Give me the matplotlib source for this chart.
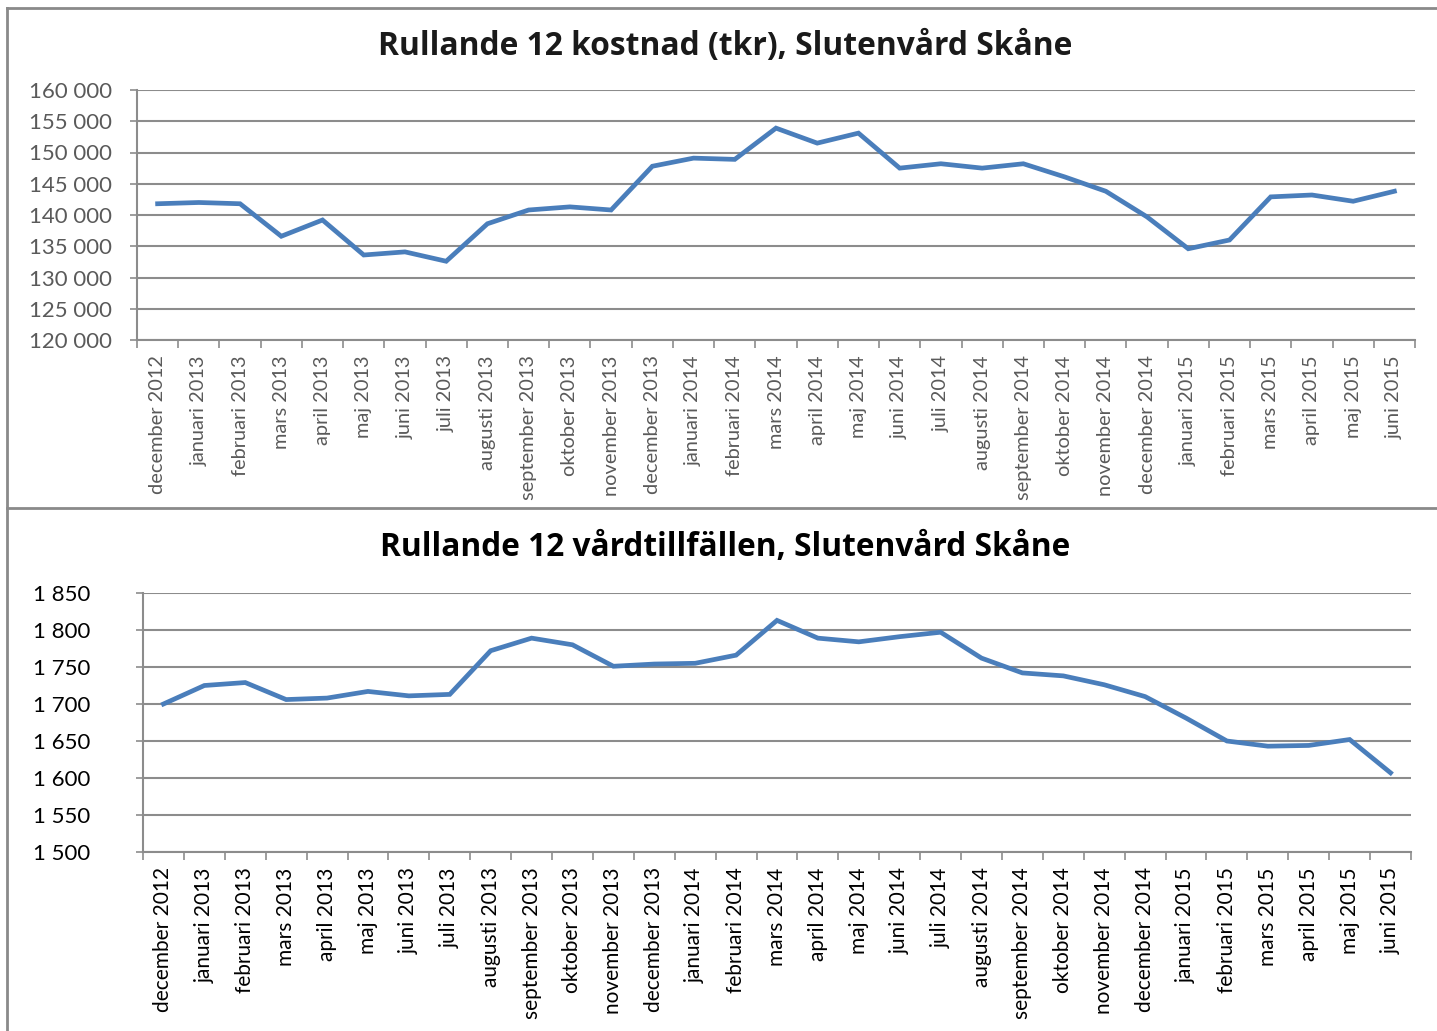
import matplotlib
matplotlib.use('Agg')

import matplotlib.pyplot as plt
import numpy as np
from matplotlib.lines import Line2D
from matplotlib.ticker import FuncFormatter

plt.rcParams['font.family'] = ['Lato', 'DejaVu Sans']

# categories, shared by both charts
months = ["december 2012", "januari 2013", "februari 2013", "mars 2013", "april 2013",
          "maj 2013", "juni 2013", "juli 2013", "augusti 2013", "september 2013",
          "oktober 2013", "november 2013", "december 2013", "januari 2014", "februari 2014",
          "mars 2014", "april 2014", "maj 2014", "juni 2014", "juli 2014", "augusti 2014",
          "september 2014", "oktober 2014", "november 2014", "december 2014", "januari 2015",
          "februari 2015", "mars 2015", "april 2015", "maj 2015", "juni 2015"]

# rolling 12 cost (tkr)
cost = [141800, 142000, 141800, 136600, 139200, 133600, 134100, 132600, 138600, 140800,
        141300, 140800, 147800, 149100, 148900, 153900, 151500, 153100, 147500, 148200,
        147500, 148200, 146100, 143800, 139700, 134600, 136000, 142900, 143200, 142200,
        143800]

# rolling 12 care episodes
episodes = [1700, 1725, 1729, 1706, 1708, 1717, 1711, 1713, 1772, 1789,
            1780, 1751, 1754, 1755, 1766, 1813, 1789, 1784, 1791, 1797,
            1762, 1742, 1738, 1726, 1710, 1681, 1650, 1643, 1644, 1652,
            1607]

title_top = "Rullande 12 kostnad (tkr), Slutenvård Skåne"
title_bottom = "Rullande 12 vårdtillfällen, Slutenvård Skåne"

W, H = 1437, 1031
line_color = "#4A7EBB"
grid_color = "#8C8C8C"


def px_axes(fig, left, top, right, bottom):
	return fig.add_axes([left / W, 1 - bottom / H, (right - left) / W, (bottom - top) / H])


def space_thousands(v, pos):
	return "{:,}".format(int(round(v))).replace(",", " ")


def style_axes(ax, values, ylim, ystep, text_color, ysize, xsize, ypad):
	x = np.arange(len(values))
	ax.plot(x, values, color=line_color, lw=3.4, solid_joinstyle='miter')
	ax.set_xlim(-0.5, len(values) - 0.5)
	ax.set_ylim(*ylim)
	ax.set_yticks(np.arange(ylim[0], ylim[1] + 1, ystep))
	ax.yaxis.set_major_formatter(FuncFormatter(space_thousands))
	ax.yaxis.grid(True, color=grid_color, lw=1.5)
	ax.set_axisbelow(True)
	ax.set_xticks(x)
	ax.set_xticklabels(months, rotation=90, fontsize=xsize, color=text_color)
	ax.set_xticks(np.arange(-0.5, len(values), 1), minor=True)
	ax.tick_params(axis='x', which='major', length=0, pad=11)
	ax.tick_params(axis='x', which='minor', length=6, width=1.2, color=grid_color, direction='out')
	ax.tick_params(axis='y', length=5, width=1.2, color=grid_color, direction='out',
	               labelsize=ysize, labelcolor=text_color, pad=ypad)
	for s in ['top', 'right']:
		ax.spines[s].set_visible(False)
	for s in ['left', 'bottom']:
		ax.spines[s].set_color(grid_color)
		ax.spines[s].set_linewidth(1.5)


fig = plt.figure(figsize=(W / 100.0, H / 100.0), dpi=100)

# top chart
ax1 = px_axes(fig, 137, 90, 1415, 340)
style_axes(ax1, cost, (120000, 160000), 5000, "#5A5A5A", 16, 14.4, 13)
fig.text(725 / W, 1 - 47 / H, title_top, ha='center', va='center',
         fontsize=22.9, fontweight='bold', color="#1A1A1A", family='Open Sans')

# bottom chart
ax2 = px_axes(fig, 143, 593, 1411, 852)
style_axes(ax2, episodes, (1500, 1850), 50, "#000000", 16, 15, 33)
fig.text(725 / W, 1 - 548 / H, title_bottom, ha='center', va='center',
         fontsize=22.8, fontweight='bold', color="#000000", family='Open Sans')

# chart frames
frame = "#8A8A8A"
fig.add_artist(Line2D([7 / W, 7 / W], [0, 1 - 8 / H], color=frame, lw=2))
fig.add_artist(Line2D([7 / W, 1], [1 - 8 / H, 1 - 8 / H], color=frame, lw=2))
fig.add_artist(Line2D([7 / W, 1], [1 - 508 / H, 1 - 508 / H], color=frame, lw=2))

fig.savefig("out.png", dpi=100)
